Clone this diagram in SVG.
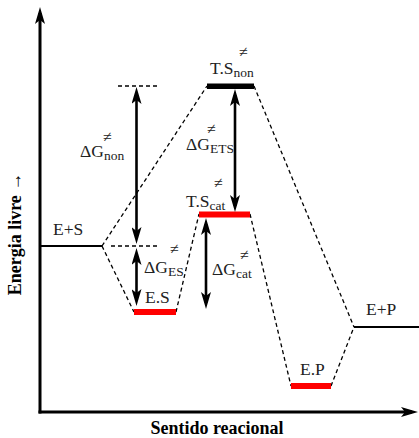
<svg xmlns="http://www.w3.org/2000/svg" width="419" height="438" viewBox="0 0 419 438">
<style>
text{font-family:'Liberation Serif','DejaVu Serif',serif}
.t{font-size:17.5px;fill:#222}
.s{font-size:13.5px}
.ne{font-size:16px;fill:#222}
.ax{font-size:18px;font-weight:bold;fill:#000}
.d{stroke:#000;stroke-width:1.3;stroke-dasharray:4,3;fill:none}
.a{stroke:#000;stroke-width:2.6;fill:none;marker-start:url(#ah);marker-end:url(#ah)}
.ax1{stroke:#000;stroke-width:3;fill:none;marker-end:url(#ah)}
.lv{stroke:#000;stroke-width:2;fill:none}
</style>
<defs>
<marker id="ah" viewBox="0 0 17 10" refX="11" refY="5" markerWidth="17" markerHeight="10" markerUnits="userSpaceOnUse" orient="auto-start-reverse">
<path d="M17,5 L0,0 L4,5 L0,10 Z" fill="#000"/>
</marker>
</defs>
<rect width="419" height="438" fill="#fff"/>
<g id="axes">
<line class="ax1" x1="40" y1="413.5" x2="40" y2="13"/>
<line class="ax1" x1="38.5" y1="412" x2="412" y2="412"/>
<text class="ax" transform="translate(21,234) rotate(-90)" text-anchor="middle">Energia livre →</text>
<text class="ax" x="217" y="434" text-anchor="middle">Sentido reacional</text>
</g>
<g id="connectors">
<line class="d" x1="102" y1="246" x2="207" y2="86"/>
<line class="d" x1="102" y1="246" x2="134" y2="312"/>
<line class="d" x1="176" y1="312" x2="199" y2="214"/>
<line class="d" x1="250" y1="214" x2="291" y2="386"/>
<line class="d" x1="254" y1="86" x2="354" y2="327"/>
<line class="d" x1="331" y1="386" x2="354" y2="327"/>
<line class="d" x1="118" y1="86" x2="160" y2="86"/>
<line class="d" x1="111" y1="246" x2="157" y2="246"/>
</g>
<g id="ES_reactants">
<line class="lv" x1="40" y1="246" x2="102" y2="246"/>
<text class="t" x="53" y="235">E+S</text>
</g>
<g id="ES_complex">
<rect x="134" y="309" width="42" height="6" fill="#f00"/>
<text class="t" x="145" y="303">E.S</text>
</g>
<g id="TS_non">
<rect x="207" y="83.5" width="47" height="5.5" fill="#000"/>
<text class="t" x="210" y="74">T.S<tspan class="s" dy="3">non</tspan></text>
<text class="ne" x="239" y="57">≠</text>
</g>
<g id="TS_cat">
<rect x="199" y="211.5" width="51" height="6" fill="#f00"/>
<text class="t" x="186" y="207">T.S<tspan class="s" dy="3">cat</tspan></text>
<text class="ne" x="214" y="188">≠</text>
</g>
<g id="EP_complex">
<rect x="291" y="383" width="40" height="6" fill="#f00"/>
<text class="t" x="300" y="375">E.P</text>
</g>
<g id="EP_products">
<line class="lv" x1="354" y1="327" x2="419" y2="327"/>
<text class="t" x="366" y="315">E+P</text>
</g>
<g id="dG_non">
<line class="a" x1="136.5" y1="93" x2="136.5" y2="238"/>
<text class="t" x="80" y="157">ΔG<tspan class="s" dy="3">non</tspan></text>
<text class="ne" x="103" y="142">≠</text>
</g>
<g id="dG_ES">
<line class="a" x1="136.5" y1="254" x2="136.5" y2="300"/>
<text class="t" x="144" y="273">ΔG<tspan class="s" dy="3">ES</tspan></text>
<text class="ne" x="170" y="254">≠</text>
</g>
<g id="dG_ETS">
<line class="a" x1="235" y1="95" x2="235" y2="206"/>
<text class="t" x="186" y="150">ΔG<tspan class="s" dy="3">ETS</tspan></text>
<text class="ne" x="207" y="134">≠</text>
</g>
<g id="dG_cat">
<line class="a" x1="206" y1="224" x2="206" y2="303"/>
<text class="t" x="212" y="275">ΔG<tspan class="s" dy="3">cat</tspan></text>
<text class="ne" x="240" y="260">≠</text>
</g>
</svg>
